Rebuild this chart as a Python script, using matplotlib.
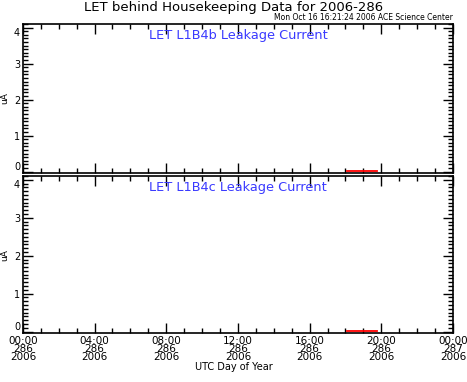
import numpy as np
import matplotlib
matplotlib.use("Agg")
import matplotlib.pyplot as plt
from matplotlib.ticker import MultipleLocator

plt.rcParams['font.family'] = ['DejaVu Sans']

# hours of day 286 (UTC) and leakage currents (uA)
hours = [18.07, 18.35, 18.65, 18.95, 19.25, 19.55, 19.75]
l1b4b = [0.02, 0.02, 0.02, 0.02, 0.02, 0.02, 0.02]
l1b4c = [0.02, 0.02, 0.02, 0.02, 0.02, 0.02, 0.02]

xtick_pos = [0, 4, 8, 12, 16, 20, 24]
xtick_lab = ["00:00\n286\n2006", "04:00\n286\n2006", "08:00\n286\n2006",
             "12:00\n286\n2006", "16:00\n286\n2006", "20:00\n286\n2006",
             "00:00\n287\n2006"]
panel_titles = ["LET L1B4b Leakage Current", "LET L1B4c Leakage Current"]

fig = plt.figure(figsize=(4.67, 3.82), dpi=100)
ax1 = fig.add_axes([0.049, 0.547, 0.921, 0.390])
ax2 = fig.add_axes([0.049, 0.128, 0.921, 0.411])

for ax, y, t in [(ax1, l1b4b, panel_titles[0]), (ax2, l1b4c, panel_titles[1])]:
    ax.plot(hours, y, color='red', lw=1.3, zorder=5)
    ax.set_xlim(0, 24)
    ax.set_ylim(-0.04, 4.1)
    ax.set_yticks([0, 1, 2, 3, 4])
    ax.yaxis.set_minor_locator(MultipleLocator(0.1))
    ax.set_xticks(xtick_pos)
    ax.xaxis.set_minor_locator(MultipleLocator(1))
    ax.tick_params(which='both', direction='in', top=True, right=True,
                   width=1)
    ax.tick_params(axis='y', labelsize=7, pad=2)
    ax.tick_params(axis='x', labelsize=7.5, pad=2)
    ax.tick_params(which='major', length=7)
    ax.tick_params(which='minor', length=3.5)
    for s in ax.spines.values():
        s.set_linewidth(1.2)
    ax.set_ylabel("uA", fontsize=6.5, labelpad=3)
    ax.text(0.5, 0.97, t, transform=ax.transAxes, ha='center', va='top',
            color='#3a3aff', fontsize=9.3)
    # keep the end labels inside their own panel
    ylabs = ax.get_yticklabels()
    ylabs[0].set_va('bottom')
    ylabs[-1].set_va('top')

ax1.set_xticklabels([])
ax2.set_xticklabels(xtick_lab, linespacing=0.78)
fig.text(0.5, 0.040, "UTC Day of Year", ha='center', va='center', fontsize=7)

fig.text(0.5, 0.980, "LET behind Housekeeping Data for 2006-286",
         ha='center', va='center', fontsize=9.5)
fig.text(0.970, 0.942, "Mon Oct 16 16:21:24 2006 ACE Science Center",
         ha='right', va='bottom', fontsize=5.5)

fig.savefig("out.png", dpi=100, facecolor='white')
